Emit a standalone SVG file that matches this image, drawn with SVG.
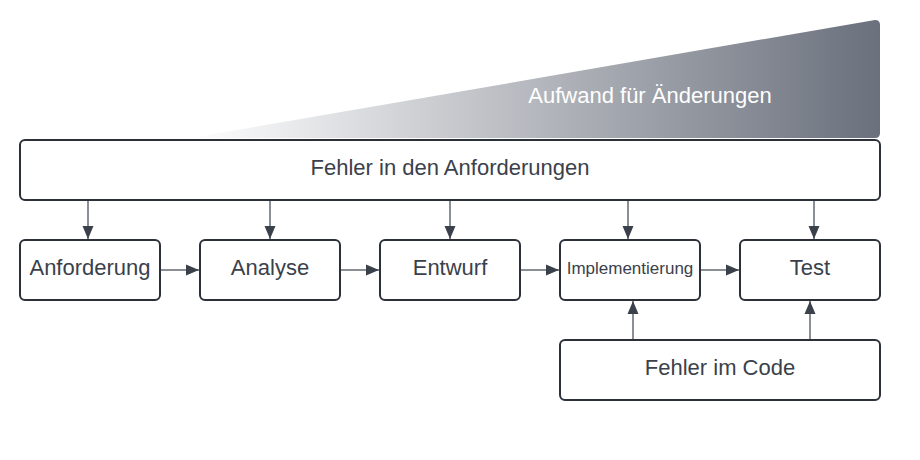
<svg xmlns="http://www.w3.org/2000/svg" width="920" height="460" viewBox="0 0 920 460">
<defs>
<linearGradient id="g" x1="190" y1="0" x2="880" y2="0" gradientUnits="userSpaceOnUse">
<stop offset="0" stop-color="#ffffff"/>
<stop offset="1" stop-color="#6a707c"/>
</linearGradient>
<marker id="ah" markerWidth="14" markerHeight="14" refX="13" refY="7" orient="auto" markerUnits="userSpaceOnUse">
<path d="M0,1.5 L13,7 L0,12.5 Z" fill="#3a414b"/>
</marker>
<style>
.box{fill:#fff;stroke:#2b3039;stroke-width:2}
.t{font-family:"Liberation Sans",Arial,sans-serif;font-size:22px;fill:#3a414b;text-anchor:middle;dominant-baseline:central}
.c{stroke:#8a8e95;stroke-width:2;fill:none;marker-end:url(#ah)}
</style>
</defs>
<g id="aufwand">
<path d="M190,138 L875,20 Q880,20 880,25 L880,133 Q880,138 875,138 Z" fill="url(#g)"/>
<text x="650" y="95" class="t" style="fill:#fff">Aufwand für Änderungen</text>
</g>
<g id="fehler-anforderungen">
<rect class="box" x="20" y="140" width="860" height="60" rx="5"/>
<text class="t" x="450" y="167">Fehler in den Anforderungen</text>
</g>
<g id="anforderung">
<rect class="box" x="20" y="240" width="140" height="60" rx="5"/>
<text class="t" x="90" y="267">Anforderung</text>
</g>
<g id="analyse">
<rect class="box" x="200" y="240" width="140" height="60" rx="5"/>
<text class="t" x="270" y="267">Analyse</text>
</g>
<g id="entwurf">
<rect class="box" x="380" y="240" width="140" height="60" rx="5"/>
<text class="t" x="450" y="267">Entwurf</text>
</g>
<g id="implementierung">
<rect class="box" x="560" y="240" width="140" height="60" rx="5"/>
<text class="t" x="630" y="268" style="font-size:17px">Implementierung</text>
</g>
<g id="test">
<rect class="box" x="740" y="240" width="140" height="60" rx="5"/>
<text class="t" x="810" y="267">Test</text>
</g>
<g id="fehler-code">
<rect class="box" x="560" y="340" width="320" height="60" rx="5"/>
<text class="t" x="720" y="367">Fehler im Code</text>
</g>
<g id="connectors">
<line class="c" x1="88" y1="201" x2="88" y2="239"/>
<line class="c" x1="270" y1="201" x2="270" y2="239"/>
<line class="c" x1="450" y1="201" x2="450" y2="239"/>
<line class="c" x1="628" y1="201" x2="628" y2="239"/>
<line class="c" x1="814" y1="201" x2="814" y2="239"/>
<line class="c" x1="161" y1="270" x2="199" y2="270"/>
<line class="c" x1="341" y1="270" x2="379" y2="270"/>
<line class="c" x1="521" y1="270" x2="559" y2="270"/>
<line class="c" x1="701" y1="270" x2="739" y2="270"/>
<line class="c" x1="633" y1="339" x2="633" y2="301"/>
<line class="c" x1="810" y1="339" x2="810" y2="301"/>
</g>
</svg>
